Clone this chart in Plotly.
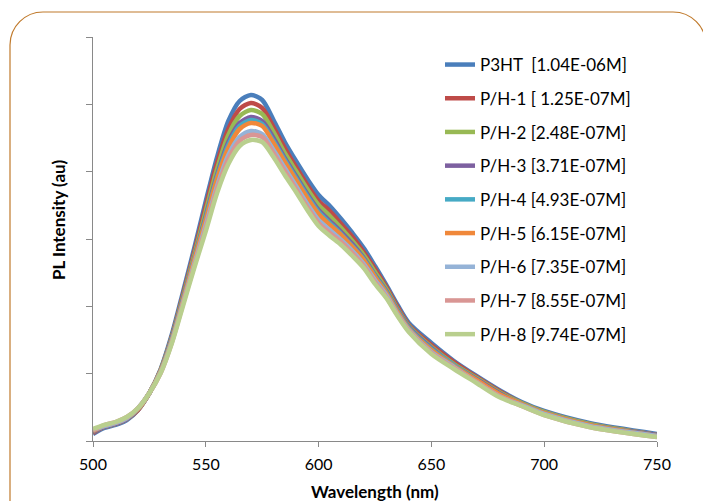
import plotly.graph_objects as go

# Emission spectra (arbitrary PL intensity units) vs wavelength in nm
wavelength = [500, 505, 510, 515, 520, 525, 530, 535, 540, 545, 550, 555, 560, 565,
              570, 575, 580, 585, 590, 595, 600, 605, 610, 615, 620, 625, 630, 635,
              640, 650, 660, 670, 680, 690, 700, 720, 750]

p3ht = [7, 13, 16, 21, 31, 48, 72, 107, 150, 194, 240, 284, 320, 340, 346, 341, 321, 299,
        280, 262, 246, 235, 222, 208, 193, 175, 156, 136, 118, 98, 80, 65, 51, 39, 30, 18, 7]
ph1 = [8, 14, 17, 22, 31, 48, 71, 105, 147, 190, 235, 278, 312, 332, 338, 333, 314, 293,
       274, 256, 240, 230, 217, 204, 189, 172, 154, 134, 116, 96, 79, 64, 50, 38, 29, 17, 6]
ph2 = [9, 14, 17, 22, 32, 48, 71, 104, 145, 187, 230, 272, 306, 325, 331, 327, 309, 288,
       270, 252, 236, 225, 213, 200, 186, 169, 152, 132, 115, 94, 77, 63, 49, 38, 29, 17, 6]
ph3 = [9, 14, 17, 22, 32, 48, 70, 103, 143, 184, 225, 266, 299, 318, 324, 320, 303, 283,
       265, 247, 231, 220, 209, 197, 183, 166, 150, 131, 114, 93, 76, 62, 48, 37, 28, 16, 6]
ph4 = [10, 15, 18, 23, 32, 48, 70, 102, 142, 183, 223, 264, 296, 315, 321, 317, 300, 281,
       263, 245, 229, 218, 207, 195, 182, 165, 149, 130, 113, 92, 76, 61, 47, 37, 28, 16, 5]
ph5 = [10, 15, 18, 23, 32, 48, 70, 101, 141, 182, 221, 262, 293, 312, 318, 315, 298, 279,
       261, 243, 227, 216, 206, 194, 181, 164, 148, 129, 112, 91, 75, 61, 47, 37, 28, 16, 5]
ph6 = [11, 15, 18, 23, 33, 48, 69, 100, 139, 178, 216, 255, 286, 304, 310, 307, 291, 273,
       255, 237, 221, 211, 201, 190, 177, 161, 146, 127, 111, 89, 74, 59, 45, 36, 27, 15, 5]
ph7 = [11, 16, 19, 24, 33, 48, 68, 99, 138, 176, 213, 252, 282, 300, 306, 304, 288, 270,
       252, 234, 218, 208, 199, 188, 175, 159, 144, 126, 110, 88, 73, 59, 45, 35, 26, 14, 4]
ph8 = [12, 16, 19, 24, 33, 48, 68, 98, 136, 174, 210, 248, 277, 295, 301, 299, 284, 266,
       249, 231, 215, 205, 196, 185, 173, 157, 143, 125, 109, 87, 72, 58, 44, 35, 26, 14, 4]

names = ["P3HT  [1.04E-06M]", "P/H-1 [ 1.25E-07M]", "P/H-2 [2.48E-07M]",
         "P/H-3 [3.71E-07M]", "P/H-4 [4.93E-07M]", "P/H-5 [6.15E-07M]",
         "P/H-6 [7.35E-07M]", "P/H-7 [8.55E-07M]", "P/H-8 [9.74E-07M]"]
series = [p3ht, ph1, ph2, ph3, ph4, ph5, ph6, ph7, ph8]
colors = ["#4A7EBB", "#BE4B48", "#98B954", "#7D60A0", "#46AAC5",
          "#F0883A", "#95B3D7", "#D99694", "#B9CF8E"]

x_ticks = [500, 550, 600, 650, 700, 750]

W, H = 703, 501
L, R, T, B = 93, 46, 37, 60
PW, PH = W - L - R, H - T - B


def px(x):
    return (x - L) / PW


def py(y):
    return (H - B - y) / PH


FONT = "Lato"
AXIS = "#898989"

fig = go.Figure()
for name, vals, col in zip(names, series, colors):
    fig.add_trace(go.Scatter(
        x=wavelength, y=vals, name=name, mode="lines",
        line=dict(color=col, width=4.5, shape="spline", smoothing=0.8),
        legendgroup=name,
    ))

# rounded chart-area frame
r, k = 33, 33 * 0.5523
x0, x1, y0, y1 = 10, 706, 12, 530
path = (f"M {px(x0)},{py(y1)} L {px(x0)},{py(y0 + r)} "
        f"C {px(x0)},{py(y0 + r - k)} {px(x0 + r - k)},{py(y0)} {px(x0 + r)},{py(y0)} "
        f"L {px(x1 - r)},{py(y0)} "
        f"C {px(x1 - r + k)},{py(y0)} {px(x1)},{py(y0 + r - k)} {px(x1)},{py(y0 + r)} "
        f"L {px(x1)},{py(y1)}")
fig.add_shape(type="path", path=path, xref="paper", yref="paper",
              line=dict(color="#C07A2C", width=1.2))

fig.add_annotation(text="<b>PL Intensity (au)</b>", textangle=-90,
                   x=px(59), y=py(220), xref="paper", yref="paper",
                   xanchor="center", yanchor="middle",
                   showarrow=False, font=dict(family=FONT, size=17, color="#000"))
fig.add_annotation(text="<b>Wavelength (nm)</b>",
                   x=px(375), y=py(479), xref="paper", yref="paper",
                   xanchor="center", yanchor="top", showarrow=False,
                   font=dict(family=FONT, size=17, color="#000"))

fig.update_layout(
    width=W, height=H,
    margin=dict(l=L, r=R, t=T, b=B),
    paper_bgcolor="white", plot_bgcolor="white",
    font=dict(family=FONT, size=16, color="#000"),
    showlegend=True,
    legend=dict(x=px(440), y=py(47), xanchor="left", yanchor="top",
                font=dict(family=FONT, size=17, color="#000"),
                tracegroupgap=8.6, bgcolor="rgba(0,0,0,0)"),
    xaxis=dict(range=[500, 750], tickvals=x_ticks, showgrid=False, zeroline=False,
               showline=True, linecolor=AXIS, linewidth=1,
               ticks="outside", ticklen=5, tickcolor=AXIS, ticklabelstandoff=4,
               tickfont=dict(family=FONT, size=16, color="#000")),
    yaxis=dict(range=[0, 404], tick0=0, dtick=404 / 6, showgrid=False, zeroline=False,
               showline=True, linecolor=AXIS, linewidth=1,
               ticks="outside", ticklen=6, tickcolor=AXIS, showticklabels=False),
)

fig.write_html("out.html")
